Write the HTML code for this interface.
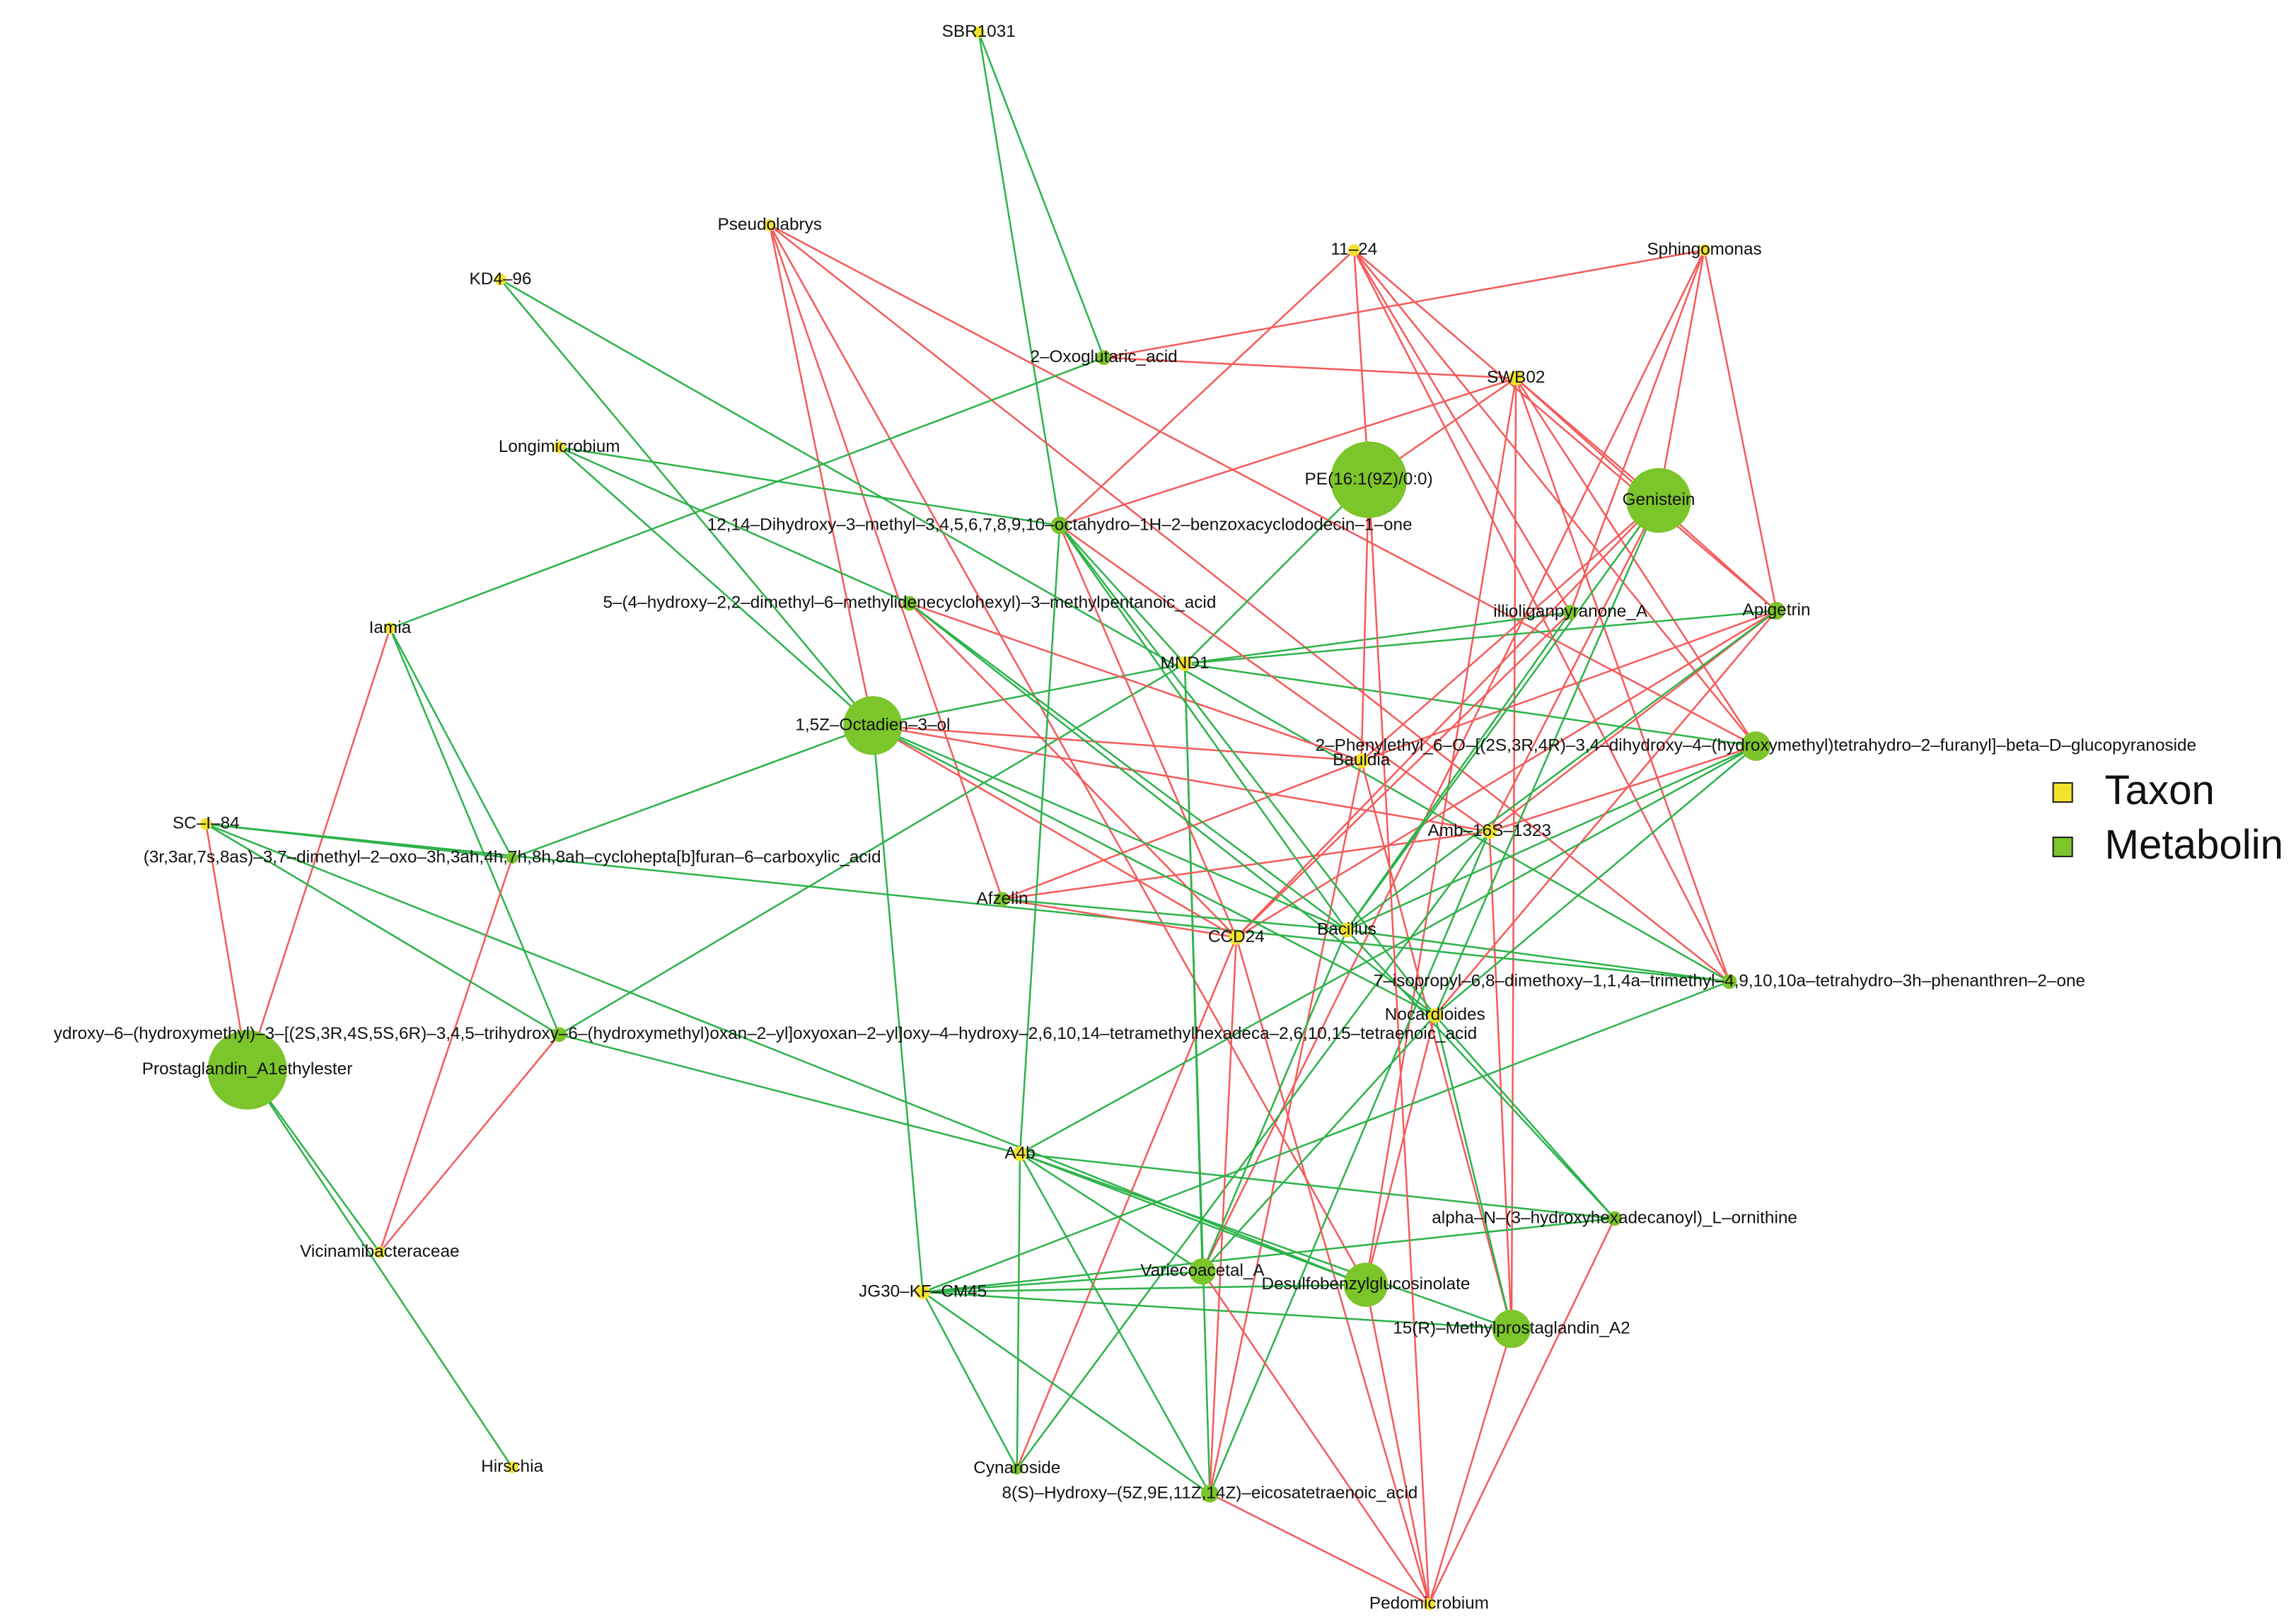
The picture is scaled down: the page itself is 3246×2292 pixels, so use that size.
<!DOCTYPE html>
<html><head><meta charset="utf-8"><style>
html,body{margin:0;padding:0;background:#fff;width:3246px;height:2292px;overflow:hidden}
svg{display:block}
text{font-family:"Liberation Sans",sans-serif;font-size:11.7px;fill:#111;text-anchor:middle;dominant-baseline:middle}
.g{stroke:#2db24a;stroke-width:1.2;fill:none}
.r{stroke:#f55a5a;stroke-width:1.2;fill:none}
.t{fill:#f2e32a}
.m{fill:#7cc52a}
</style></head><body>
<svg width="3246" height="2292" viewBox="0 0 1560 1101.5" xmlns="http://www.w3.org/2000/svg">
<g>
<line class="g" x1="665" y1="22" x2="750" y2="243"/>
<line class="g" x1="665" y1="22" x2="720" y2="357"/>
<line class="r" x1="523" y1="153" x2="593" y2="493"/>
<line class="r" x1="523" y1="153" x2="681" y2="611"/>
<line class="r" x1="523" y1="153" x2="1193" y2="507"/>
<line class="r" x1="523" y1="153" x2="928" y2="873"/>
<line class="r" x1="523" y1="153" x2="1175" y2="667"/>
<line class="g" x1="340" y1="190" x2="593" y2="493"/>
<line class="g" x1="340" y1="190" x2="1175" y2="667"/>
<line class="r" x1="920" y1="170" x2="720" y2="357"/>
<line class="r" x1="920" y1="170" x2="930" y2="326"/>
<line class="r" x1="920" y1="170" x2="1193" y2="507"/>
<line class="r" x1="920" y1="170" x2="1067" y2="416"/>
<line class="r" x1="920" y1="170" x2="1175" y2="667"/>
<line class="r" x1="920" y1="170" x2="1207" y2="415"/>
<line class="r" x1="1158" y1="170" x2="750" y2="243"/>
<line class="r" x1="1158" y1="170" x2="1127" y2="340"/>
<line class="r" x1="1158" y1="170" x2="1207" y2="415"/>
<line class="r" x1="1158" y1="170" x2="817" y2="864"/>
<line class="r" x1="1158" y1="170" x2="1067" y2="416"/>
<line class="r" x1="1030" y1="257" x2="750" y2="243"/>
<line class="r" x1="1030" y1="257" x2="930" y2="326"/>
<line class="r" x1="1030" y1="257" x2="1127" y2="340"/>
<line class="r" x1="1030" y1="257" x2="720" y2="357"/>
<line class="r" x1="1030" y1="257" x2="1207" y2="415"/>
<line class="r" x1="1030" y1="257" x2="1193" y2="507"/>
<line class="r" x1="1030" y1="257" x2="1027" y2="903"/>
<line class="r" x1="1030" y1="257" x2="928" y2="873"/>
<line class="r" x1="1030" y1="257" x2="1175" y2="667"/>
<line class="g" x1="380" y1="304" x2="720" y2="357"/>
<line class="g" x1="380" y1="304" x2="593" y2="493"/>
<line class="g" x1="380" y1="304" x2="618" y2="410"/>
<line class="g" x1="265" y1="427" x2="750" y2="243"/>
<line class="r" x1="265" y1="427" x2="168" y2="727"/>
<line class="g" x1="265" y1="427" x2="380" y2="703"/>
<line class="g" x1="265" y1="427" x2="348" y2="583"/>
<line class="g" x1="805" y1="451" x2="930" y2="326"/>
<line class="g" x1="805" y1="451" x2="593" y2="493"/>
<line class="g" x1="805" y1="451" x2="720" y2="357"/>
<line class="g" x1="805" y1="451" x2="1067" y2="416"/>
<line class="g" x1="805" y1="451" x2="1207" y2="415"/>
<line class="g" x1="805" y1="451" x2="1193" y2="507"/>
<line class="g" x1="805" y1="451" x2="822" y2="1015"/>
<line class="g" x1="805" y1="451" x2="817" y2="864"/>
<line class="g" x1="805" y1="451" x2="380" y2="703"/>
<line class="r" x1="925" y1="517" x2="930" y2="326"/>
<line class="r" x1="925" y1="517" x2="1127" y2="340"/>
<line class="r" x1="925" y1="517" x2="618" y2="410"/>
<line class="r" x1="925" y1="517" x2="593" y2="493"/>
<line class="r" x1="925" y1="517" x2="1207" y2="415"/>
<line class="r" x1="925" y1="517" x2="822" y2="1015"/>
<line class="r" x1="925" y1="517" x2="681" y2="611"/>
<line class="r" x1="925" y1="517" x2="1027" y2="903"/>
<line class="r" x1="140" y1="560" x2="168" y2="727"/>
<line class="g" x1="140" y1="560" x2="348" y2="583"/>
<line class="g" x1="140" y1="560" x2="928" y2="873"/>
<line class="g" x1="140" y1="560" x2="1175" y2="667"/>
<line class="r" x1="1012" y1="565" x2="720" y2="357"/>
<line class="r" x1="1012" y1="565" x2="593" y2="493"/>
<line class="r" x1="1012" y1="565" x2="1127" y2="340"/>
<line class="r" x1="1012" y1="565" x2="1207" y2="415"/>
<line class="r" x1="1012" y1="565" x2="681" y2="611"/>
<line class="g" x1="1012" y1="565" x2="691" y2="998"/>
<line class="r" x1="1012" y1="565" x2="1027" y2="903"/>
<line class="g" x1="1012" y1="565" x2="822" y2="1015"/>
<line class="r" x1="1012" y1="565" x2="1193" y2="507"/>
<line class="r" x1="840" y1="637" x2="720" y2="357"/>
<line class="r" x1="840" y1="637" x2="1127" y2="340"/>
<line class="r" x1="840" y1="637" x2="593" y2="493"/>
<line class="r" x1="840" y1="637" x2="681" y2="611"/>
<line class="r" x1="840" y1="637" x2="691" y2="998"/>
<line class="r" x1="840" y1="637" x2="822" y2="1015"/>
<line class="r" x1="840" y1="637" x2="1207" y2="415"/>
<line class="r" x1="840" y1="637" x2="618" y2="410"/>
<line class="r" x1="840" y1="637" x2="971" y2="1090"/>
<line class="r" x1="840" y1="637" x2="1067" y2="416"/>
<line class="g" x1="915" y1="632" x2="720" y2="357"/>
<line class="g" x1="915" y1="632" x2="618" y2="410"/>
<line class="g" x1="915" y1="632" x2="1127" y2="340"/>
<line class="g" x1="915" y1="632" x2="593" y2="493"/>
<line class="g" x1="915" y1="632" x2="1193" y2="507"/>
<line class="g" x1="915" y1="632" x2="681" y2="611"/>
<line class="g" x1="915" y1="632" x2="1207" y2="415"/>
<line class="g" x1="915" y1="632" x2="817" y2="864"/>
<line class="g" x1="915" y1="632" x2="1175" y2="667"/>
<line class="g" x1="915" y1="632" x2="1097" y2="828"/>
<line class="g" x1="915" y1="632" x2="1067" y2="416"/>
<line class="g" x1="975" y1="690" x2="720" y2="357"/>
<line class="g" x1="975" y1="690" x2="593" y2="493"/>
<line class="g" x1="975" y1="690" x2="1127" y2="340"/>
<line class="g" x1="975" y1="690" x2="1193" y2="507"/>
<line class="g" x1="975" y1="690" x2="1027" y2="903"/>
<line class="r" x1="975" y1="690" x2="928" y2="873"/>
<line class="g" x1="975" y1="690" x2="817" y2="864"/>
<line class="g" x1="975" y1="690" x2="1097" y2="828"/>
<line class="r" x1="975" y1="690" x2="1207" y2="415"/>
<line class="g" x1="975" y1="690" x2="618" y2="410"/>
<line class="g" x1="693" y1="784" x2="720" y2="357"/>
<line class="g" x1="693" y1="784" x2="380" y2="703"/>
<line class="g" x1="693" y1="784" x2="1193" y2="507"/>
<line class="g" x1="693" y1="784" x2="928" y2="873"/>
<line class="g" x1="693" y1="784" x2="1027" y2="903"/>
<line class="g" x1="693" y1="784" x2="822" y2="1015"/>
<line class="g" x1="693" y1="784" x2="1097" y2="828"/>
<line class="g" x1="693" y1="784" x2="691" y2="998"/>
<line class="g" x1="693" y1="784" x2="817" y2="864"/>
<line class="g" x1="627" y1="878" x2="593" y2="493"/>
<line class="g" x1="627" y1="878" x2="817" y2="864"/>
<line class="g" x1="627" y1="878" x2="928" y2="873"/>
<line class="g" x1="627" y1="878" x2="1027" y2="903"/>
<line class="g" x1="627" y1="878" x2="822" y2="1015"/>
<line class="g" x1="627" y1="878" x2="691" y2="998"/>
<line class="g" x1="627" y1="878" x2="1175" y2="667"/>
<line class="g" x1="627" y1="878" x2="1097" y2="828"/>
<line class="g" x1="258" y1="851" x2="168" y2="727"/>
<line class="r" x1="258" y1="851" x2="348" y2="583"/>
<line class="r" x1="258" y1="851" x2="380" y2="703"/>
<line class="g" x1="348" y1="997" x2="168" y2="727"/>
<line class="g" x1="380" y1="703" x2="140" y2="560"/>
<line class="g" x1="348" y1="583" x2="593" y2="493"/>
<line class="r" x1="971" y1="1090" x2="822" y2="1015"/>
<line class="r" x1="971" y1="1090" x2="1027" y2="903"/>
<line class="r" x1="971" y1="1090" x2="817" y2="864"/>
<line class="r" x1="971" y1="1090" x2="930" y2="326"/>
<line class="r" x1="971" y1="1090" x2="928" y2="873"/>
<line class="r" x1="971" y1="1090" x2="1097" y2="828"/>
</g>
<g class="m">
<circle cx="750" cy="243" r="5"/>
<circle cx="930" cy="326" r="26"/>
<circle cx="1127" cy="340" r="22"/>
<circle cx="720" cy="357" r="6"/>
<circle cx="618" cy="410" r="5"/>
<circle cx="1067" cy="416" r="5"/>
<circle cx="1207" cy="415" r="6"/>
<circle cx="593" cy="493" r="20"/>
<circle cx="1193" cy="507" r="10"/>
<circle cx="348" cy="583" r="4"/>
<circle cx="681" cy="611" r="5"/>
<circle cx="1175" cy="667" r="5"/>
<circle cx="380" cy="703" r="5"/>
<circle cx="168" cy="727" r="27"/>
<circle cx="1097" cy="828" r="5"/>
<circle cx="817" cy="864" r="9"/>
<circle cx="928" cy="873" r="15"/>
<circle cx="1027" cy="903" r="13"/>
<circle cx="691" cy="998" r="4"/>
<circle cx="822" cy="1015" r="6"/>
</g>
<g class="t">
<circle cx="665" cy="22" r="4"/>
<circle cx="523" cy="153" r="4"/>
<circle cx="340" cy="190" r="4"/>
<circle cx="920" cy="170" r="4"/>
<circle cx="1158" cy="170" r="4"/>
<circle cx="1030" cy="257" r="5"/>
<circle cx="380" cy="304" r="4"/>
<circle cx="265" cy="427" r="4"/>
<circle cx="805" cy="451" r="5"/>
<circle cx="925" cy="517" r="5"/>
<circle cx="140" cy="560" r="4"/>
<circle cx="1012" cy="565" r="5"/>
<circle cx="840" cy="637" r="5"/>
<circle cx="915" cy="632" r="5"/>
<circle cx="975" cy="690" r="5"/>
<circle cx="693" cy="784" r="5"/>
<circle cx="258" cy="851" r="4"/>
<circle cx="627" cy="878" r="5"/>
<circle cx="348" cy="997" r="4"/>
<circle cx="971" cy="1090" r="4"/>
</g>
<g>
<text x="665" y="22">SBR1031</text>
<text x="523" y="153">Pseudolabrys</text>
<text x="340" y="190">KD4–96</text>
<text x="920" y="170">11–24</text>
<text x="1158" y="170">Sphingomonas</text>
<text x="750" y="243">2–Oxoglutaric_acid</text>
<text x="1030" y="257">SWB02</text>
<text x="380" y="304">Longimicrobium</text>
<text x="930" y="326">PE(16:1(9Z)/0:0)</text>
<text x="1127" y="340">Genistein</text>
<text x="720" y="357">12,14–Dihydroxy–3–methyl–3,4,5,6,7,8,9,10–octahydro–1H–2–benzoxacyclododecin–1–one</text>
<text x="618" y="410">5–(4–hydroxy–2,2–dimethyl–6–methylidenecyclohexyl)–3–methylpentanoic_acid</text>
<text x="265" y="427">Iamia</text>
<text x="1067" y="416">illioliganpyranone_A</text>
<text x="1207" y="415">Apigetrin</text>
<text x="805" y="451">MND1</text>
<text x="593" y="493">1,5Z–Octadien–3–ol</text>
<text x="1193" y="507">2–Phenylethyl_6–O–[(2S,3R,4R)–3,4–dihydroxy–4–(hydroxymethyl)tetrahydro–2–furanyl]–beta–D–glucopyranoside</text>
<text x="925" y="517">Bauldia</text>
<text x="140" y="560">SC–I–84</text>
<text x="348" y="583">(3r,3ar,7s,8as)–3,7–dimethyl–2–oxo–3h,3ah,4h,7h,8h,8ah–cyclohepta[b]furan–6–carboxylic_acid</text>
<text x="1012" y="565">Amb–16S–1323</text>
<text x="681" y="611">Afzelin</text>
<text x="840" y="637">CCD24</text>
<text x="915" y="632">Bacillus</text>
<text x="1175" y="667">7–isopropyl–6,8–dimethoxy–1,1,4a–trimethyl–4,9,10,10a–tetrahydro–3h–phenanthren–2–one</text>
<text x="975" y="690">Nocardioides</text>
<text x="520" y="703">ydroxy–6–(hydroxymethyl)–3–[(2S,3R,4S,5S,6R)–3,4,5–trihydroxy–6–(hydroxymethyl)oxan–2–yl]oxyoxan–2–yl]oxy–4–hydroxy–2,6,10,14–tetramethylhexadeca–2,6,10,15–tetraenoic_acid</text>
<text x="168" y="727">Prostaglandin_A1ethylester</text>
<text x="693" y="784">A4b</text>
<text x="1097" y="828">alpha–N–(3–hydroxyhexadecanoyl)_L–ornithine</text>
<text x="258" y="851">Vicinamibacteraceae</text>
<text x="817" y="864">Variecoacetal_A</text>
<text x="928" y="873">Desulfobenzylglucosinolate</text>
<text x="627" y="878">JG30–KF–CM45</text>
<text x="1027" y="903">15(R)–Methylprostaglandin_A2</text>
<text x="348" y="997">Hirschia</text>
<text x="691" y="998">Cynaroside</text>
<text x="822" y="1015">8(S)–Hydroxy–(5Z,9E,11Z,14Z)–eicosatetraenoic_acid</text>
<text x="971" y="1090">Pedomicrobium</text>
</g>
<rect x="1395" y="532" width="13" height="13" fill="#f2e32a" stroke="#222" stroke-width="1"/>
<rect x="1395" y="569" width="13" height="13" fill="#7cc52a" stroke="#222" stroke-width="1"/>
<text x="1430" y="539" style="font-size:28px;text-anchor:start">Taxon</text>
<text x="1430" y="576" style="font-size:28px;text-anchor:start">Metabolin</text>
</svg>
</body></html>
